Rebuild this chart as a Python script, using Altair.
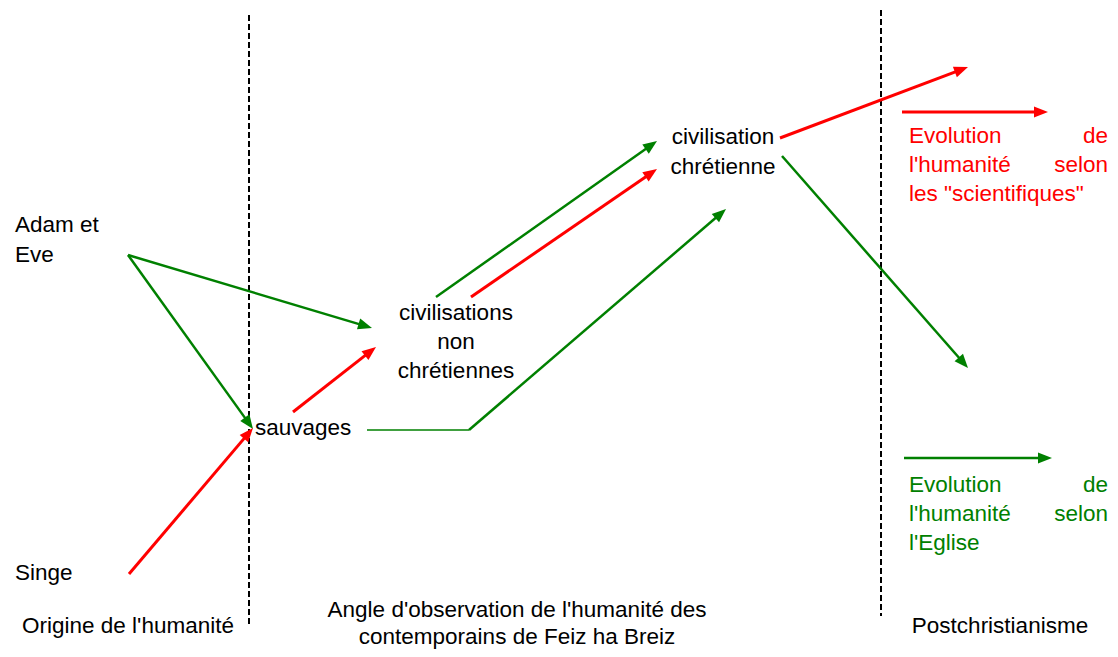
import math
import altair as alt
import pandas as pd

RED = "#ff0000"
GREEN = "#008000"

# --- arrows / segments (image pixel coordinates) ---
seg_x1 = [128, 128, 436, 469, 782, 904, 129, 293, 471, 780, 902, 367]
seg_y1 = [255, 255, 297, 430, 156, 458, 574, 412, 297, 138, 112, 430]
seg_x2 = [372, 253, 657, 726, 968, 1052, 253, 376, 657, 968, 1048, 469]
seg_y2 = [328, 429, 141, 209, 368, 458, 428, 347, 169, 67, 112, 430]
seg_color = [GREEN, GREEN, GREEN, GREEN, GREEN, GREEN, RED, RED, RED, RED, RED, GREEN]
seg_width = [2.5, 2.5, 2.5, 2.5, 2.5, 2.5, 3, 3, 3, 3, 3, 1.5]
seg_arrow = [True] * 11 + [False]

# --- dashed separators ---
sep_x = [249, 881]
sep_top = [15, 10]
sep_bottom = [627, 616]

# --- texts ---
text_label = [
    "Adam et", "Eve", "Singe", "sauvages",
    "civilisations", "non", "chrétiennes",
    "civilisation", "chrétienne",
    "Origine de l'humanité",
    "Angle d'observation de l'humanité des", "contemporains de Feiz ha Breiz",
    "Postchristianisme",
    "Evolution", "de", "l'humanité", "selon", "les \"scientifiques\"",
    "Evolution", "de", "l'humanité", "selon", "l'Eglise",
]
text_x = [15, 15, 15, 255,
          456, 456, 456,
          723, 723,
          128,
          517, 517,
          1000,
          909, 1108, 909, 1108, 909,
          909, 1108, 909, 1108, 909]
text_y = [225, 255, 573, 428,
          313, 342, 371,
          137, 167,
          626,
          610, 637,
          626,
          136, 136, 165, 165, 194,
          485, 485, 514, 514, 543]
text_align = ["left", "left", "left", "left",
              "center", "center", "center",
              "center", "center",
              "center",
              "center", "center",
              "center",
              "left", "right", "left", "right", "left",
              "left", "right", "left", "right", "left"]
text_color = ["#000000"] * 13 + [RED] * 5 + [GREEN] * 5

# ---------------------------------------------------------------
ARROW_LEN = 14
lines = []
heads = []
for x1, y1, x2, y2, c, w, a in zip(seg_x1, seg_y1, seg_x2, seg_y2, seg_color, seg_width, seg_arrow):
    dx, dy = x2 - x1, y2 - y1
    L = math.hypot(dx, dy)
    ex, ey = x2, y2
    if a:
        ex = x2 - dx / L * (ARROW_LEN - 4)
        ey = y2 - dy / L * (ARROW_LEN - 4)
        ang = math.degrees(math.atan2(dx, -dy)) % 360
        heads.append(dict(x=x2, y=y2, color=c, angle=ang))
    lines.append(dict(x=x1, y=y1, x2=ex, y2=ey, color=c, w=w))

lines_df = pd.DataFrame(lines)
heads_df = pd.DataFrame(heads)
sep_df = pd.DataFrame(dict(x=sep_x, y=sep_top, y2=sep_bottom))
text_df = pd.DataFrame(dict(label=text_label, x=text_x, y=text_y, align=text_align, color=text_color))

xs = alt.Scale(domain=[8, 1110], nice=False, zero=False)
ys = alt.Scale(domain=[8, 649], nice=False, zero=False, reverse=True)
noaxis = None

seg_layer = alt.Chart(lines_df).mark_rule(strokeCap="butt").encode(
    x=alt.X("x:Q", scale=xs, axis=noaxis),
    y=alt.Y("y:Q", scale=ys, axis=noaxis),
    x2="x2:Q",
    y2="y2:Q",
    color=alt.Color("color:N", scale=None),
    strokeWidth=alt.StrokeWidth("w:Q", scale=None),
)

head_layer = alt.Chart(heads_df).mark_point(
    shape="M0,0L-0.4,1L0.4,1Z", size=(ARROW_LEN * 2) ** 2, filled=True, opacity=1, strokeWidth=0
).encode(
    x=alt.X("x:Q", scale=xs, axis=noaxis),
    y=alt.Y("y:Q", scale=ys, axis=noaxis),
    color=alt.Color("color:N", scale=None),
    angle=alt.Angle("angle:Q", scale=None),
)

sep_layer = alt.Chart(sep_df).mark_rule(strokeDash=[6, 3], strokeWidth=2, color="#000000").encode(
    x=alt.X("x:Q", scale=xs, axis=noaxis),
    y=alt.Y("y:Q", scale=ys, axis=noaxis),
    y2="y2:Q",
)

text_layers = []
for al in ["left", "center", "right"]:
    text_layers.append(
        alt.Chart(text_df).transform_filter(alt.datum.align == al).mark_text(
            align=al, baseline="middle", font="Liberation Sans", fontSize=22.5
        ).encode(
            x=alt.X("x:Q", scale=xs, axis=noaxis),
            y=alt.Y("y:Q", scale=ys, axis=noaxis),
            text="label:N",
            color=alt.Color("color:N", scale=None),
        )
    )

chart = alt.layer(sep_layer, seg_layer, head_layer, *text_layers).properties(
    width=1102, height=641, padding=0, autosize=alt.AutoSizeParams(type="none"),
    background="white",
).configure_view(stroke=None)

chart.save("out.html", embed_options={"renderer": "svg", "actions": False})
